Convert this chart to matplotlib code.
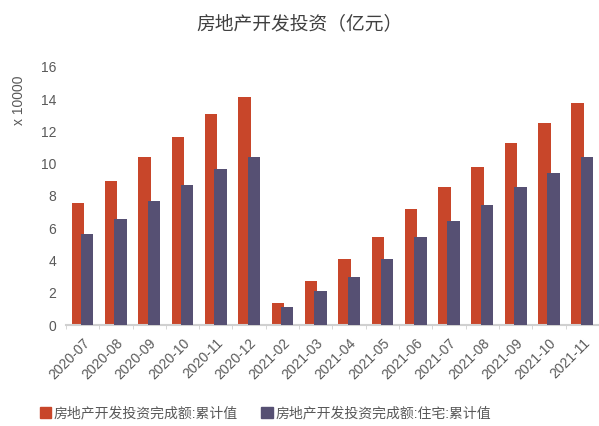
import numpy as np
import matplotlib
matplotlib.use("Agg")
import matplotlib.pyplot as plt
from matplotlib.patches import Patch

plt.rcParams['font.family'] = ['Liberation Sans', 'Noto Sans CJK SC', 'DejaVu Sans']
plt.rcParams['axes.unicode_minus'] = False

months = ['2020-07', '2020-08', '2020-09', '2020-10', '2020-11', '2020-12',
          '2021-02', '2021-03', '2021-04', '2021-05', '2021-06', '2021-07',
          '2021-08', '2021-09', '2021-10', '2021-11']
# 亿元
total = [75800, 89500, 104400, 116800, 130700, 141600,
         13800, 27500, 41100, 54800, 72100, 85800,
         98200, 113100, 125500, 137900]
housing = [56200, 65700, 77100, 87000, 97000, 104400,
           11400, 21300, 30000, 41100, 54800, 64700,
           74600, 85800, 94500, 104400]
series_names = ['房地产开发投资完成额:累计值', '房地产开发投资完成额:住宅:累计值']

ORANGE = '#c8462a'
PURPLE = '#565073'
GREY = '#595959'

fig = plt.figure(figsize=(5.99, 4.26), dpi=100)
ax = fig.add_axes([0.110, 0.237, 0.89, 0.606])

x = np.arange(len(months))
w = 0.375
ax.bar(x - 0.14, np.array(total) / 10000, width=w, color=ORANGE, zorder=2)
ax.bar(x + 0.14, np.array(housing) / 10000, width=w, color=PURPLE, zorder=3)

ax.set_xlim(-0.5, len(months) - 0.5)
ax.set_ylim(0, 16)
ax.set_yticks(range(0, 17, 2))
ax.tick_params(axis='y', length=0, labelsize=10, colors=GREY, pad=7)
ax.set_xticks(x)
ax.set_xticklabels(months, rotation=45, ha='right', rotation_mode='anchor')
ax.tick_params(axis='x', length=0, labelsize=10, colors=GREY, pad=8)
ax.set_xticks(np.arange(-0.5, len(months)), minor=True)
ax.tick_params(axis='x', which='minor', length=3, color='#d0d0d0')

for s in ['top', 'right', 'left']:
    ax.spines[s].set_visible(False)
ax.spines['bottom'].set_color('#d0d0d0')
ax.spines['bottom'].set_linewidth(1.5)

fig.text(0.031, 0.765, 'x 10000', rotation=90, ha='center', va='center',
         fontsize=10, color=GREY)
fig.suptitle('房地产开发投资（亿元）', x=0.5, y=0.965, fontsize=13.5, color='#404040')

handles = [Patch(color=ORANGE), Patch(color=PURPLE)]
fig.legend(handles, series_names, loc='center', bbox_to_anchor=(0.443, 0.030),
           ncol=2, frameon=False, fontsize=10, handlelength=0.8, handleheight=0.8,
           handletextpad=0.2, columnspacing=1.7, labelcolor=GREY)

fig.savefig('out.png', dpi=100)
